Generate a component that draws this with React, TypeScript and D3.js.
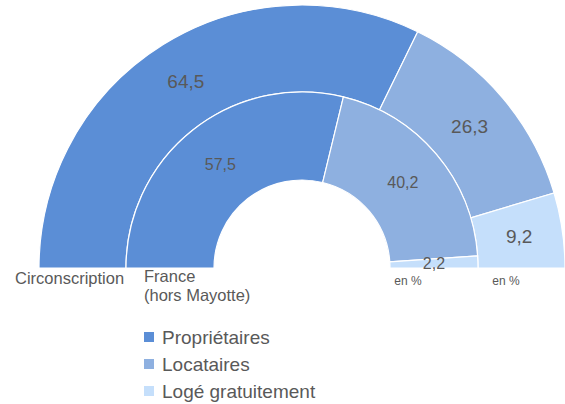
import React from "react";
import * as d3 from "d3";

const categories = ["Propriétaires", "Locataires", "Logé gratuitement"];
const circonscription = [64.5, 26.3, 9.2];
const france = [57.5, 40.2, 2.2];
const colors = ["#5b8ed6", "#8eb0e0", "#c5dffb"];
const ringNames = ["Circonscription", "France", "(hors Mayotte)"];
const unitLabel = "en %";

const W = 565;
const H = 404;
const cx = 302;
const cy = 268;
const rOuter = 263;
const rMid = 176;
const rInner = 88;
const FONT = "'Liberation Sans', Arial, sans-serif";
const TXT = "#595959";

const fr = d3.formatLocale({ decimal: ",", thousands: " ", grouping: [3], currency: ["", " €"] });
const fmt = fr.format(".1f");

export default function App() {
  const pie = d3
    .pie<number>()
    .sort(null)
    .startAngle(-Math.PI / 2)
    .endAngle(Math.PI / 2);

  const outerArc = d3.arc<d3.PieArcDatum<number>>().innerRadius(rMid).outerRadius(rOuter);
  const innerArc = d3.arc<d3.PieArcDatum<number>>().innerRadius(rInner).outerRadius(rMid);

  const outerSlices = pie(circonscription);
  const innerSlices = pie(france);

  return (
    <svg
      width={W}
      height={H}
      style={{ position: "absolute", left: 0, top: 0, background: "#fff" }}
      fontFamily={FONT}
    >
      <g transform={`translate(${cx},${cy})`}>
        {outerSlices.map((s, i) => (
          <path key={"o" + i} d={outerArc(s) || ""} fill={colors[i]} stroke="#fff" strokeWidth={1.2} />
        ))}
        {innerSlices.map((s, i) => (
          <path key={"i" + i} d={innerArc(s) || ""} fill={colors[i]} stroke="#fff" strokeWidth={1.2} />
        ))}
        {outerSlices.map((s, i) => {
          const [x, y] = outerArc.centroid(s);
          return (
            <text key={"ol" + i} x={x} y={y} textAnchor="middle" dominantBaseline="central" fontSize={19} fill={TXT}>
              {fmt(s.data)}
            </text>
          );
        })}
        {innerSlices.map((s, i) => {
          const [x, y] = innerArc.centroid(s);
          return (
            <text key={"il" + i} x={x} y={y} textAnchor="middle" dominantBaseline="central" fontSize={16} fill={TXT}>
              {fmt(s.data)}
            </text>
          );
        })}
      </g>
      <text x={15} y={284} fontSize={16.5} fill={TXT}>{ringNames[0]}</text>
      <text x={144} y={282} fontSize={16.5} fill={TXT}>{ringNames[1]}</text>
      <text x={144} y={301} fontSize={16.5} fill={TXT}>{ringNames[2]}</text>
      <text x={408} y={285} fontSize={12} textAnchor="middle" fill={TXT}>{unitLabel}</text>
      <text x={506} y={285} fontSize={12} textAnchor="middle" fill={TXT}>{unitLabel}</text>
      {categories.map((c, i) => (
        <g key={c} transform={`translate(144,${332 + i * 27})`}>
          <rect x={0} y={0} width={10} height={10} fill={colors[i]} />
          <text x={18} y={12} fontSize={19} fill={TXT}>{c}</text>
        </g>
      ))}
    </svg>
  );
}
